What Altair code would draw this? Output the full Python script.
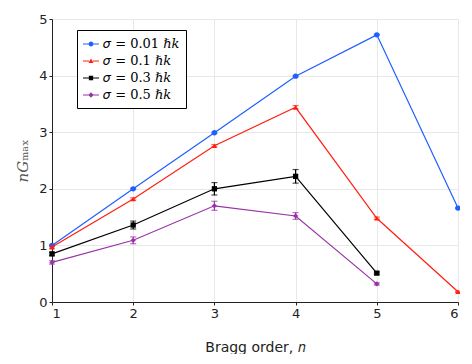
import altair as alt
import pandas as pd

orders = [1, 2, 3, 4, 5, 6]
labels = ["𝜎 = 0.01 ℏ𝑘", "𝜎 = 0.1 ℏ𝑘", "𝜎 = 0.3 ℏ𝑘", "𝜎 = 0.5 ℏ𝑘"]
s001 = [1.00, 2.00, 2.99, 3.99, 4.72, 1.66]
s01 = [0.97, 1.82, 2.76, 3.44, 1.48, 0.18]
s03 = [0.85, 1.36, 2.00, 2.22, 0.51]
s05 = [0.70, 1.09, 1.70, 1.52, 0.32]
e001 = [0.01, 0.01, 0.01, 0.01, 0.01, 0.01]
e01 = [0.02, 0.02, 0.02, 0.03, 0.02, 0.01]
e03 = [0.03, 0.07, 0.11, 0.12, 0.02]
e05 = [0.03, 0.06, 0.08, 0.06, 0.02]

colors = ["#1f5fff", "#ff1f10", "#000000", "#9932a8"]
shapes = ["circle", "triangle-up", "square", "diamond"]

rows = []
for lab, vals, errs in zip(labels, [s001, s01, s03, s05], [e001, e01, e03, e05]):
    for n, v, e in zip(orders, vals, errs):
        rows.append({"n": n, "g": v, "lo": v - e, "hi": v + e, "label": lab})
df = pd.DataFrame(rows)

# legend symbols: short line with the marker in the middle
seg = "M-1,-0.05H-0.25V0.05H-1Z M0.25,-0.05H1V0.05H0.25Z "
r = 0.3
leg_paths = [
    seg + f"M-{r},0A{r},{r} 0 1,1 {r},0A{r},{r} 0 1,1 -{r},0Z",
    seg + "M0,-0.32L0.32,0.26L-0.32,0.26Z",
    seg + "M-0.27,-0.27H0.27V0.27H-0.27Z",
    seg + "M0,-0.33L0.33,0L0,0.33L-0.33,0Z",
]

ytitle = "𝑛𝐺ₘₐₓ"
xtitle = "Bragg order, 𝑛"
xs = alt.X("n:Q", scale=alt.Scale(domain=[1, 6], nice=False),
           axis=alt.Axis(values=orders, format="d"), title=xtitle)
ys = alt.Y("g:Q", scale=alt.Scale(domain=[0, 5], nice=False),
           axis=alt.Axis(values=[0, 1, 2, 3, 4, 5], format="d"), title=ytitle)
xp = alt.X("n:Q", title=xtitle)
yp = alt.Y("g:Q", title=ytitle)

base = alt.Chart(df)
layers = []
for i, (lab, col, shp) in enumerate(zip(labels, colors, shapes)):
    sub = base.transform_filter(alt.datum.label == lab)
    layers.append(sub.mark_line(strokeWidth=1.2, color=col).encode(
        x=xs if i == 0 else xp, y=ys if i == 0 else yp))
    layers.append(sub.mark_errorbar(ticks=alt.MarkConfig(size=6), thickness=1.2, color=col).encode(
        x=xp, y=alt.Y("lo:Q", title=ytitle), y2="hi:Q"))
    layers.append(sub.mark_point(filled=True, size=28, opacity=1, color=col, shape=shp).encode(
        x=xp, y=yp))

legdef = dict(title=None, orient="none", legendX=25, legendY=11, symbolOpacity=1,
              symbolSize=256, symbolStrokeWidth=0, labelFont="DejaVu Serif",
              labelFontSize=13, labelColor="#000", labelLimit=200,
              strokeColor="#000", fillColor="white", padding=6, rowPadding=2,
              labelOffset=4)
leg = base.mark_point(filled=True, opacity=0, size=1).encode(
    x=xp, y=yp,
    fill=alt.Fill("label:N", scale=alt.Scale(domain=labels, range=colors),
                  legend=alt.Legend(**legdef)),
    shape=alt.Shape("label:N", scale=alt.Scale(domain=labels, range=leg_paths),
                    legend=alt.Legend(**legdef)),
)
layers.append(leg)

chart = alt.layer(*layers).properties(
    width=406, height=283,
    autosize=alt.AutoSizeParams(type="none"),
    padding={"left": 44, "top": 11, "right": 2, "bottom": 52},
).configure_view(stroke=None).configure_axis(
    gridColor="#e8e8e8", domainColor="#222", tickColor="#222", tickSize=3,
    labelFont="DejaVu Sans", labelFontSize=13, labelColor="#222",
    titleFont="DejaVu Sans", titleFontSize=14, titleFontWeight="normal", titleColor="#222",
).configure_axisY(
    titleFont="DejaVu Serif", titleColor="#555", titleFontSize=15, titlePadding=8
).configure_axisX(titlePadding=20)

chart.save("out.html", embed_options={"renderer": "svg", "actions": False})
